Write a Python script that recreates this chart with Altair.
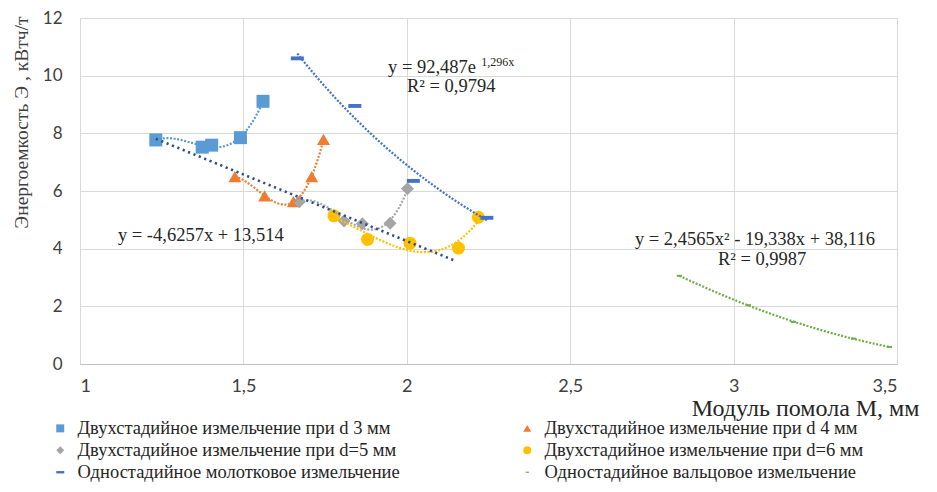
import altair as alt
import pandas as pd

# ---- data ----
series_names = [
    "Двухстадийное измельчение при d  3 мм",
    "Двухстадийное измельчение при d  4 мм",
    "Двухстадийное измельчение при d=5 мм",
    "Двухстадийное измельчение при d=6 мм",
    "Одностадийное молотковое измельчение",
    "Одностадийное вальцовое измельчение",
]
d3_x = [1.232, 1.374, 1.403, 1.491, 1.560]
d3_y = [7.77, 7.52, 7.59, 7.85, 9.11]
d4_x = [1.474, 1.565, 1.653, 1.709, 1.745]
d4_y = [6.50, 5.83, 5.63, 6.50, 7.79]
d5_x = [1.671, 1.808, 1.864, 1.949, 2.002]
d5_y = [5.63, 4.96, 4.86, 4.88, 6.08]
d6_x = [1.777, 1.880, 2.010, 2.158, 2.219]
d6_y = [5.14, 4.32, 4.19, 4.02, 5.09]
ham_x = [1.665, 1.841, 2.020, 2.245]
ham_y = [10.60, 8.95, 6.35, 5.07]
rol_x = [2.834, 3.045, 3.183, 3.367, 3.477]
rol_y = [3.06, 2.04, 1.46, 0.88, 0.59]

# common linear trendline (ends)
lin_x = [1.232, 2.150]
lin_y = [7.81, 3.57]

x_ticks = [1, 1.5, 2, 2.5, 3, 3.5]
y_ticks = [0, 2, 4, 6, 8, 10, 12]

ann_text = ["y = 92,487e", "R² = 0,9794", "y = -4,6257x + 13,514",
            "y = 2,4565x² - 19,338x + 38,116", "R² = 0,9987"]
ann_x = [1.9425, 2.0006, 1.116, 2.698, 2.952]
ann_y = [10.09, 9.43, 4.27, 4.13, 3.44]
sup_text = ["1,296x"]
sup_x = [2.228]
sup_y = [10.34]

colors = ["#5B9BD5", "#ED7D31", "#A5A5A5", "#FFC000", "#4472C4", "#70AD47"]
shapes = ["square", "triangle-up", "diamond", "circle",
          "M-1,-0.3H1V0.3H-1Z", "M-0.4,-0.15H0.4V0.15H-0.4Z"]

# ---- build table ----
rows = []
for name, xs_, ys_ in zip(series_names,
                          [d3_x, d4_x, d5_x, d6_x, ham_x, rol_x],
                          [d3_y, d4_y, d5_y, d6_y, ham_y, rol_y]):
    for a, b in zip(xs_, ys_):
        rows.append({"x": a, "y": b, "series": name})
df = pd.DataFrame(rows)
lin_df = pd.DataFrame({"x": lin_x, "y": lin_y})
ann_df = pd.DataFrame({"t": ann_text, "x": ann_x, "y": ann_y})
sup_df = pd.DataFrame({"t": sup_text, "x": sup_x, "y": sup_y})

serif = "Liberation Serif"
sans = "Lato"

xs = alt.X("x:Q", scale=alt.Scale(domain=[1, 3.5], nice=False, zero=False),
           axis=alt.Axis(values=x_ticks, labelExpr="replace(toString(datum.value), '.', ',')",
                         title="Модуль помола М, мм", titleFont=serif, titleFontSize=24,
                         titleFontWeight="normal", titleColor="#262626",
                         titleAnchor="end", titleAlign="right", titleX=839, titleY=44,
                         titleBaseline="middle",
                         labelFont=sans, labelFontSize=18, labelColor="#404040",
                         labelPadding=13, ticks=False, domain=True, domainColor="#bfbfbf",
                         grid=True, gridColor="#d9d9d9"))
ys = alt.Y("y:Q", scale=alt.Scale(domain=[0, 12], nice=False),
           axis=alt.Axis(values=y_ticks, title="Энергоемкость Э , кВтч/т",
                         titleFont=serif, titleFontSize=19.5, titleFontWeight="normal",
                         titleColor="#404040", titleAngle=270, titleAnchor="end",
                         titleAlign="right", titleBaseline="middle", titleX=-59, titleY=-2,
                         labelFont=sans, labelFontSize=17, labelColor="#404040",
                         labelPadding=18, ticks=False, domain=False,
                         grid=True, gridColor="#d9d9d9"))

points = alt.Chart(df).mark_point(filled=True, opacity=1, size=169).encode(
    x=xs, y=ys,
    color=alt.Color("series:N", scale=alt.Scale(domain=series_names, range=colors),
                    sort=series_names,
                    legend=alt.Legend(title=None, orient="none", legendX=-29, legendY=401,
                                      direction="horizontal",
                                      columns=2, columnPadding=118, rowPadding=3,
                                      labelFont=serif, labelFontSize=18.5, labelColor="#262626",
                                      labelOffset=8, symbolSize=64, symbolOpacity=1,
                                      labelLimit=500, padding=0)),
    shape=alt.Shape("series:N", scale=alt.Scale(domain=series_names, range=shapes),
                    sort=series_names),
)

dash = [2, 1.6]
layers = [points]
trend_specs = [
    (series_names[0], "poly", 3, colors[0]),
    (series_names[1], "poly", 3, colors[1]),
    (series_names[2], "poly", 3, colors[2]),
    (series_names[3], "poly", 3, colors[3]),
    (series_names[4], "exp", 1, colors[4]),
    (series_names[5], "poly", 2, colors[5]),
]
for name, method, order, col in trend_specs:
    base = alt.Chart(df).transform_filter(alt.datum.series == name)
    if method == "poly":
        reg = base.transform_regression("x", "y", method="poly", order=order)
    else:
        reg = base.transform_regression("x", "y", method=method)
    layers.append(reg.mark_line(color=col, strokeWidth=2.2, strokeDash=dash).encode(
        x="x:Q", y="y:Q"))

layers.append(alt.Chart(lin_df).mark_line(color="#2E4F8A", strokeWidth=2.6,
                                          strokeDash=[2.2, 3.6]).encode(x="x:Q", y="y:Q"))
layers.append(alt.Chart(ann_df).mark_text(font=serif, fontSize=18.5, color="#262626",
                                          align="left", baseline="alphabetic").encode(
    x="x:Q", y="y:Q", text="t:N"))
layers.append(alt.Chart(sup_df).mark_text(font=serif, fontSize=12, color="#262626",
                                          align="left", baseline="alphabetic").encode(
    x="x:Q", y="y:Q", text="t:N"))

chart = alt.layer(*layers).properties(
    width=817, height=346,
    autosize=alt.AutoSizeParams(type="none"),
    padding={"left": 72, "top": 10, "right": 24, "bottom": 120},
).configure_view(stroke="#d9d9d9").configure(background="white")

chart.save("out.html", embed_options={"renderer": "svg", "actions": False})
